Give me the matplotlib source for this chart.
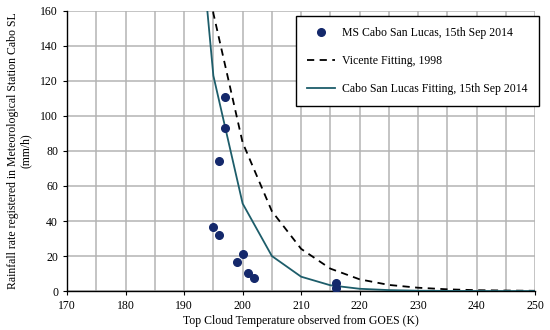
import matplotlib.pyplot as plt
from matplotlib.ticker import MultipleLocator

# observed points, MS Cabo San Lucas 15 Sep 2014
obs_temp = [195, 196, 196, 197, 197, 199, 200, 201, 202, 216, 216]
obs_rain = [36.5, 32, 74.5, 111, 93, 16.5, 21, 10.5, 7.5, 4.5, 1.5]

# fitted curves, read at 5 K steps
fit_temp = [190, 195, 200, 205, 210, 215, 220, 225, 230, 235, 240, 245, 250]
vicente_rain = [299, 158.6, 84.8, 45.6, 24.1, 12.8, 6.7, 3.5, 1.9, 1.0, 0.5, 0.3, 0.15]
cabo_rain = [303, 123, 50, 20, 8.2, 3.3, 1.3, 0.55, 0.2, 0.08, 0.03, 0.01, 0.0]

plt.rcParams['font.family'] = ['Liberation Serif', 'DejaVu Serif']

fig = plt.figure(figsize=(5.5, 3.3), dpi=100)
ax = fig.add_axes([0.122, 0.118, 0.851, 0.849])

ax.plot(obs_temp, obs_rain, 'o', color='#14286b', markersize=5.5,
        label='MS Cabo San Lucas, 15th Sep 2014', zorder=4)
ax.plot(fit_temp, vicente_rain, '--', color='black', linewidth=1.3,
        dashes=(4, 3), label='Vicente Fitting, 1998', zorder=3)
ax.plot(fit_temp, cabo_rain, '-', color='#1d5d6a', linewidth=1.3,
        label='Cabo San Lucas Fitting, 15th Sep 2014', zorder=3)

ax.set_xlim(170, 250)
ax.set_ylim(0, 160)
ax.xaxis.set_major_locator(MultipleLocator(10))
ax.xaxis.set_minor_locator(MultipleLocator(5))
ax.yaxis.set_major_locator(MultipleLocator(20))
ax.grid(True, which='both', color='#b4b4b4', linewidth=1.1)
ax.set_axisbelow(True)
ax.tick_params(which='major', direction='out', length=3, labelsize=8.5)
ax.tick_params(which='minor', length=0)

for s in ['top', 'right']:
    ax.spines[s].set_visible(False)
for s in ['left', 'bottom']:
    ax.spines[s].set_linewidth(1.0)

ax.set_xlabel('Top Cloud Temperature observed from GOES (K)', fontsize=8.5, labelpad=2)
ax.set_ylabel('Rainfall rate registered in Meteorological Station Cabo SL\n(mm/h)',
              fontsize=8.5, labelpad=6, linespacing=1.1)

leg = ax.legend(loc='upper right', bbox_to_anchor=(0.98, 0.952),
                bbox_transform=fig.transFigure, fontsize=8.5,
                fancybox=False, framealpha=1, edgecolor='black',
                borderpad=0.95, labelspacing=1.35, handlelength=2.4,
                handletextpad=0.6, borderaxespad=0)
leg.get_frame().set_linewidth(1.0)

fig.savefig('out.png', dpi=100)
